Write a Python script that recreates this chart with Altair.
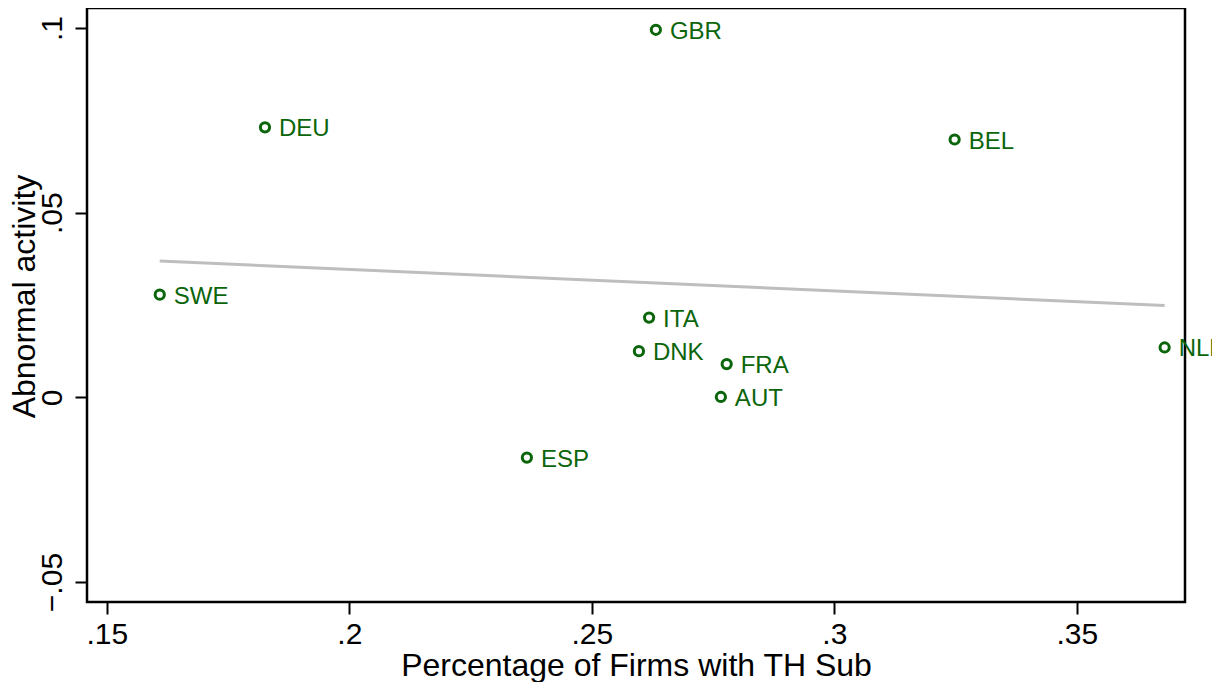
import altair as alt
import pandas as pd

countries = ["GBR", "DEU", "BEL", "SWE", "ITA", "DNK", "FRA", "AUT", "ESP", "NLD"]
pct_th_sub = [0.2632, 0.1826, 0.3248, 0.1609, 0.2618, 0.2597, 0.2778, 0.2766, 0.2366, 0.3681]
abnormal = [0.0995, 0.0731, 0.0698, 0.0278, 0.0216, 0.0125, 0.0090, 0.0001, -0.0163, 0.0135]

x_ticks = [0.15, 0.2, 0.25, 0.3, 0.35]
y_ticks = [-0.05, 0, 0.05, 0.1]

df = pd.DataFrame({"country": countries, "x": pct_th_sub, "y": abnormal})

GREEN = "#0b650b"
FONT = "Liberation Sans"
label_expr = "replace(format(datum.value, '.2~f'), '0.', '.')"

xs = alt.Scale(domain=[0.1459, 0.3723], nice=False, zero=False)
ys = alt.Scale(domain=[-0.0554, 0.1054], nice=False, zero=False)

x_enc = alt.X("x:Q", scale=xs, title="Percentage of Firms with TH Sub",
              axis=alt.Axis(values=x_ticks, labelExpr=label_expr, grid=False, domain=False,
                            tickSize=12, tickWidth=2, tickColor="black",
                            labelFontSize=30, labelFont=FONT, labelColor="black",
                            labelPadding=5, titleFontSize=32, titleFont=FONT,
                            titleFontWeight="normal", titleColor="black",
                            titleBaseline="alphabetic", titleY=73))
y_enc = alt.Y("y:Q", scale=ys, title="Abnormal activity",
              axis=alt.Axis(values=y_ticks, labelExpr=label_expr, grid=False, domain=False,
                            tickSize=12, tickWidth=2, tickColor="black",
                            labelFontSize=30, labelFont=FONT, labelColor="black",
                            labelAngle=270, labelAlign="center", labelBaseline="bottom",
                            labelPadding=8, titleFontSize=32, titleFont=FONT,
                            titleFontWeight="normal", titleColor="black",
                            titleAngle=270, titleX=-63, titleY=288,
                            titleAlign="center", titleBaseline="middle"))

base = alt.Chart(df)

fit = base.transform_regression("x", "y").mark_line(color="#bebebe", strokeWidth=3).encode(
    x=x_enc, y=y_enc)

pts = base.mark_point(shape="circle", filled=False, size=85, strokeWidth=3, color=GREEN,
                      opacity=1).encode(x=x_enc, y=y_enc)

lbl = base.mark_text(align="left", baseline="middle", dx=14, dy=2, fontSize=24, font=FONT,
                     color=GREEN).encode(x=x_enc, y=y_enc, text="country:N")

chart = (fit + pts + lbl).properties(
    width=1098, height=594,
    autosize=alt.AutoSizeParams(type="none"),
    padding={"left": 79, "top": 0, "right": 27, "bottom": 80},
    background="white",
).configure_view(stroke="black", strokeWidth=2.5)

chart.save("out.html", embed_options={"renderer": "svg", "actions": False})
